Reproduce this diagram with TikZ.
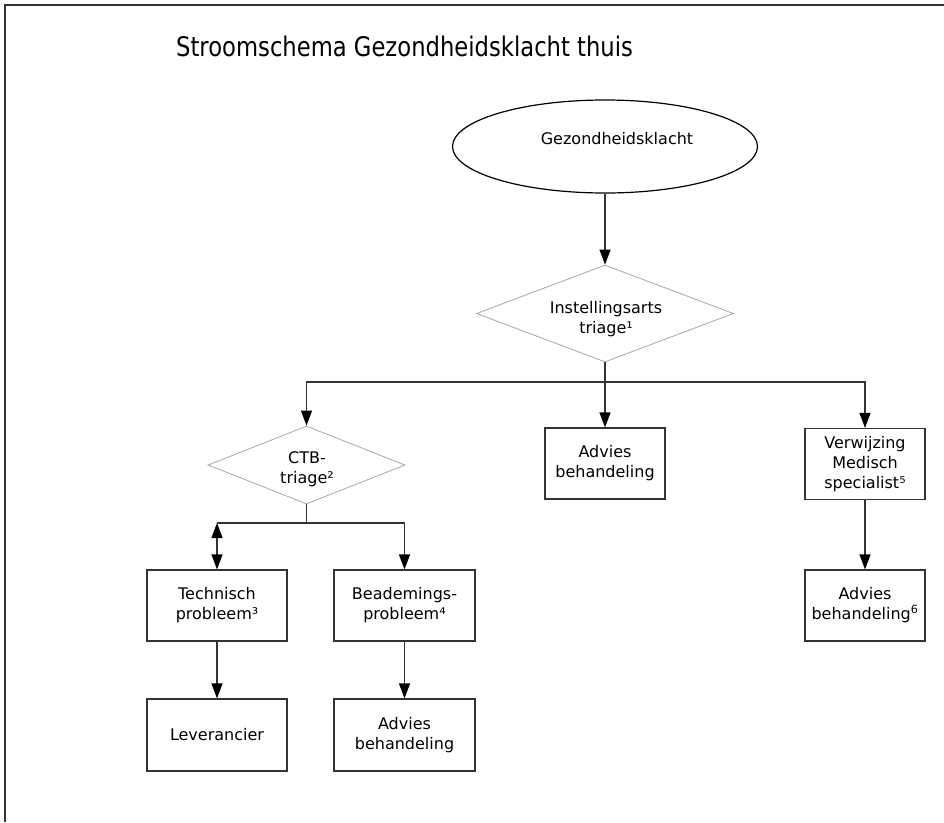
\documentclass[tikz,border=0pt]{standalone}
\usepackage{fontspec}
\setmainfont{DejaVu Sans}
\newfontfamily\titlefont[FakeStretch=0.84]{DejaVu Sans}
\usetikzlibrary{arrows.meta,shapes.geometric}
\definecolor{lnc}{HTML}{333333}
\definecolor{dgc}{HTML}{A6A6A6}
\begin{document}
\begin{tikzpicture}[x=1pt,y=-1pt,
  every node/.style={font=\fontsize{16}{20}\selectfont, text=black, inner sep=0pt},
  box/.style={draw=lnc, line width=1.2pt, minimum height=71pt, align=center},
  dia/.style={draw=dgc, line width=0.8pt, diamond, align=center},
  conn/.style={draw=lnc, line width=1.2pt},
  arr/.style={conn, -{Triangle[length=15pt,width=11pt,color=black]}},
  darr/.style={conn, {Triangle[length=15pt,width=11pt,color=black]}-{Triangle[length=15pt,width=11pt,color=black]}}
]
\useasboundingbox (0,0) rectangle (944,822);
% frame
\draw[conn, line width=1.5pt] (5,822) -- (5,5) -- (944,5);

% title
\node[anchor=base west, font=\titlefont\fontsize{27}{32}\selectfont] (title) at (176,56) {Stroomschema Gezondheidsklacht thuis};

% nodes
\node[draw=black, line width=1.2pt, ellipse, minimum width=305pt, minimum height=93pt] (e) at (605,146.5) {};
\node (et) at (617,139) {Gezondheidsklacht};

\node[dia, minimum width=257pt, minimum height=97pt] (d1) at (605,313.5) {};
\node[align=center] (d1t) at (606,319) {Instellingsarts\\triage¹};

\node[box, minimum width=120pt] (b1) at (605,463.5) {Advies\\behandeling};
\node[box, minimum width=120pt] (b2) at (865,464) {Verwijzing\\Medisch\\specialist⁵};
\node[box, minimum width=120pt] (b3) at (865,605.5) {Advies\\behandeling\textsuperscript{6}};

\node[dia, minimum width=197pt, minimum height=78pt] (d2) at (306.5,465) {};
\node[align=center] (d2t) at (307,469) {CTB-\\triage²};

\node[box, minimum width=140pt] (b4) at (217,605.5) {Technisch\\probleem³};
\node[box, minimum width=141pt] (b5) at (404.5,605.5) {Beademings-\\probleem⁴};
\node[box, minimum width=140pt, minimum height=72pt] (b6) at (217,735) {Leverancier};
\node[box, minimum width=141pt, minimum height=72pt] (b7) at (404.5,735) {Advies\\behandeling};

% junctions
\coordinate (j1) at (605,382);
\coordinate (j2) at (306.5,523);
\coordinate (c4) at (217,523);
\coordinate (c5) at (404.5,523);

% connectors
\draw[arr] (e.south) -- (d1.north);
\draw[conn] (d1.south) -- (j1);
\draw[arr] (j1) -| (d2.north);
\draw[arr] (j1) -- (b1.north);
\draw[arr] (j1) -| (b2.north);
\draw[arr] (b2.south) -- (b3.north);
\draw[conn] (d2.south) -- (j2);
\draw[conn] (c4) -- (c5);
\draw[darr] (c4) -- (b4.north);
\draw[arr] (c5) -- (b5.north);
\draw[arr] (b4.south) -- (b6.north);
\draw[arr] (b5.south) -- (b7.north);
\end{tikzpicture}
\end{document}
